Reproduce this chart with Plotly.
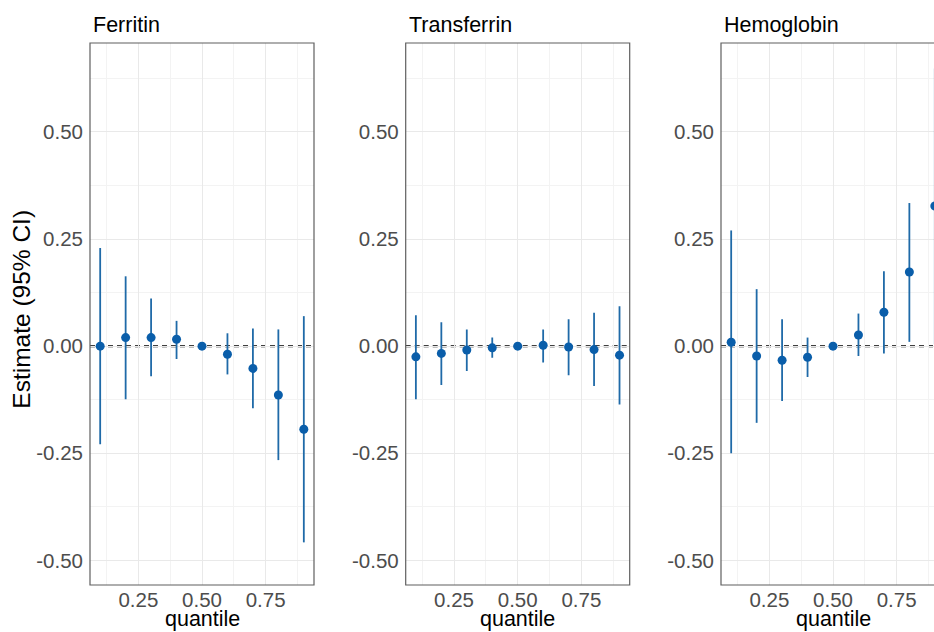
import plotly.graph_objects as go

# ---------------- data ----------------
quantile = [0.1, 0.2, 0.3, 0.4, 0.5, 0.6, 0.7, 0.8, 0.9]
panels = ["Ferritin", "Transferrin", "Hemoglobin"]

ferritin_est = [0.000, 0.020, 0.020, 0.016, 0.000, -0.019, -0.052, -0.114, -0.194]
ferritin_lo = [-0.229, -0.124, -0.070, -0.030, 0.000, -0.066, -0.145, -0.266, -0.458]
ferritin_hi = [0.229, 0.163, 0.111, 0.059, 0.000, 0.030, 0.041, 0.039, 0.070]

transferrin_est = [-0.025, -0.017, -0.009, -0.004, 0.000, 0.002, -0.002, -0.008, -0.021]
transferrin_lo = [-0.124, -0.091, -0.058, -0.027, 0.000, -0.038, -0.068, -0.093, -0.136]
transferrin_hi = [0.072, 0.056, 0.039, 0.020, 0.000, 0.039, 0.063, 0.078, 0.093]

hemoglobin_est = [0.009, -0.023, -0.033, -0.026, 0.000, 0.026, 0.079, 0.173, 0.327]
hemoglobin_lo = [-0.250, -0.179, -0.128, -0.072, 0.000, -0.023, -0.017, 0.010, 0.005]
hemoglobin_hi = [0.270, 0.133, 0.063, 0.020, 0.000, 0.076, 0.175, 0.334, 0.648]

x_ticks = [0.25, 0.50, 0.75]
x_tick_text = ["0.25", "0.50", "0.75"]
x_minor = [0.125, 0.375, 0.625, 0.875]
y_ticks = [-0.50, -0.25, 0.00, 0.25, 0.50]
y_tick_text = ["-0.50", "-0.25", "0.00", "0.25", "0.50"]
y_minor = [-0.375, -0.125, 0.125, 0.375, 0.625]

series = [
    (ferritin_est, ferritin_lo, ferritin_hi),
    (transferrin_est, transferrin_lo, transferrin_hi),
    (hemoglobin_est, hemoglobin_lo, hemoglobin_hi),
]

# ---------------- layout geometry ----------------
W, H = 934, 632
FONT = "Liberation Sans, Arial, Helvetica, sans-serif"
POINT_COLOR = "#0a5eaa"
BAR_COLOR = "#1f6aa8"
GRID = "#e9e9e9"
MINOR_GRID = "#f3f3f3"
BORDER = "#5f5f5f"

panel_left = [90, 405.7, 721]
panel_width = 224
px_per_unit = panel_width / 0.88
x_domains = [[l / W, min(1.0, (l + panel_width) / W)] for l in panel_left]
y_domain = [1 - 585 / H, 1 - 43 / H]
x_ranges = [[0.06, 0.94], [0.06, 0.94], [0.06, 0.06 + (W - panel_left[2]) / px_per_unit]]
y_range = [-0.5575, 0.7075]

fig = go.Figure()

for i, (est, lo, hi) in enumerate(series):
    sfx = "" if i == 0 else str(i + 1)
    plus = [h - e for h, e in zip(hi, est)]
    minus = [e - l for e, l in zip(est, lo)]
    fig.add_trace(go.Scatter(
        x=quantile, y=est, mode="markers",
        xaxis="x" + sfx, yaxis="y" + sfx,
        marker=dict(color=POINT_COLOR, size=9),
        error_y=dict(type="data", array=plus, arrayminus=minus,
                     symmetric=False, width=0, thickness=1.8, color=BAR_COLOR),
        showlegend=False, cliponaxis=True,
    ))

layout = dict(
    width=W, height=H,
    margin=dict(l=0, r=0, t=0, b=0),
    paper_bgcolor="white", plot_bgcolor="white",
    font=dict(family=FONT, color="#4d4d4d"),
    showlegend=False,
)

shapes = []
annotations = []
for i in range(3):
    sfx = "" if i == 0 else str(i + 1)
    layout["xaxis" + sfx] = dict(
        domain=x_domains[i], range=x_ranges[i], anchor="y" + sfx,
        tickmode="array", tickvals=x_ticks, ticktext=x_tick_text,
        showgrid=True, gridcolor=GRID, gridwidth=1.3,
        minor=dict(tickmode="array", tickvals=x_minor, showgrid=True,
                   gridcolor=MINOR_GRID, gridwidth=1),
        zeroline=False, showline=False, ticks="",
        tickfont=dict(size=20.5, color="#4d4d4d", family=FONT),
        ticklabelstandoff=0, fixedrange=True,
    )
    layout["yaxis" + sfx] = dict(
        domain=y_domain, range=y_range, anchor="x" + sfx,
        tickmode="array", tickvals=y_ticks, ticktext=y_tick_text,
        showgrid=True, gridcolor=GRID, gridwidth=1.3,
        minor=dict(tickmode="array", tickvals=y_minor, showgrid=True,
                   gridcolor=MINOR_GRID, gridwidth=1),
        zeroline=False, showline=False, ticks="",
        tickfont=dict(size=20.5, color="#4d4d4d", family=FONT),
        ticklabelstandoff=6, fixedrange=True,
    )
    # zero reference line
    shapes.append(dict(type="line", xref="x" + sfx + " domain", yref="y" + sfx,
                       x0=0, x1=1, y0=0, y1=0, layer="below",
                       line=dict(color="black", width=2, dash="5px,4px")))
    # panel border (the last panel runs past the right edge of the picture)
    shapes.append(dict(type="rect", xref="x" + sfx + " domain", yref="y" + sfx + " domain",
                       x0=0, x1=1 if i < 2 else 1.1, y0=0, y1=1, layer="above",
                       line=dict(color=BORDER, width=1.2)))
    # panel title
    annotations.append(dict(text=panels[i], xref="paper", yref="paper",
                            x=(panel_left[i] + 1) / W, y=1 - 25.3 / H,
                            xanchor="left", yanchor="middle", showarrow=False,
                            font=dict(size=21.5, color="black", family=FONT)))
    # x axis title
    annotations.append(dict(text="quantile", xref="paper", yref="paper",
                            x=(panel_left[i] + panel_width / 2) / W, y=1 - 618.5 / H,
                            xanchor="center", yanchor="middle", showarrow=False,
                            font=dict(size=21.5, color="black", family=FONT)))

annotations.append(dict(text="Estimate (95% CI)", xref="paper", yref="paper",
                        x=21.7 / W, y=1 - 309 / H, textangle=-90,
                        xanchor="center", yanchor="middle", showarrow=False,
                        font=dict(size=24.5, color="black", family=FONT)))

layout["shapes"] = shapes
layout["annotations"] = annotations
fig.update_layout(**layout)

fig.write_html(
    "out.html",
    config={"displayModeBar": False},
    post_script="document.body.style.margin='0';document.body.style.padding='0';"
                "document.body.style.overflow='hidden';",
)
